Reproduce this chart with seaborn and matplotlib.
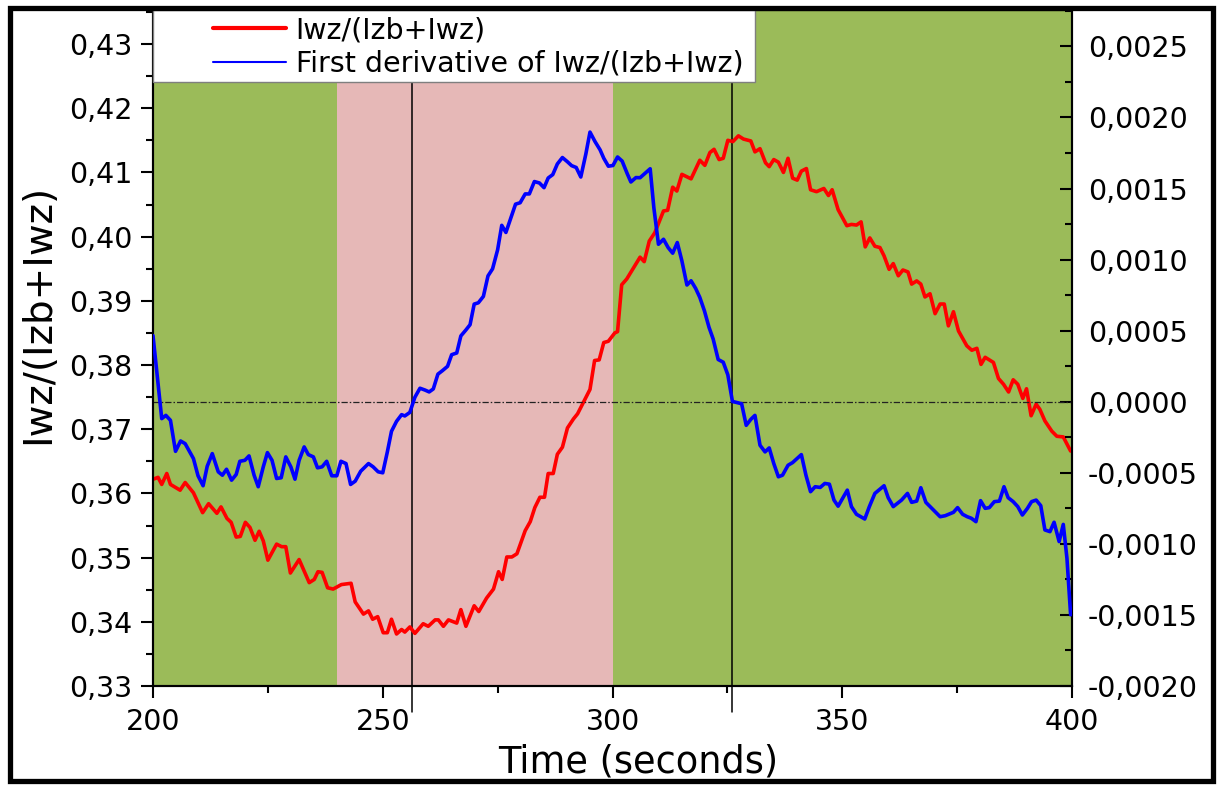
import numpy as np
import pandas as pd
import matplotlib
matplotlib.use("Agg")
import matplotlib.pyplot as plt
import seaborn as sns
from matplotlib.lines import Line2D
from matplotlib.patches import Rectangle
from matplotlib.ticker import MultipleLocator, FuncFormatter

# ---- measured ratio Iwz/(Izb+Iwz) ----
time_ratio = [
    200.0, 201.1, 201.9, 203.0, 203.8, 205.9, 207.0, 208.8, 210.8, 212.1,
    213.9, 214.8, 216.1, 217.0, 218.1, 219.0, 220.1, 221.1, 222.2, 223.1,
    224.0, 225.0, 226.9, 228.0, 228.9, 229.9, 231.8, 234.0, 235.1, 235.9,
    236.8, 238.0, 239.2, 241.0, 243.1, 244.0, 245.8, 246.9, 247.8, 248.9,
    250.1, 251.0, 251.9, 253.0, 254.1, 254.8, 255.9, 257.0, 258.8, 259.9,
    261.4, 262.1, 263.2, 264.3, 266.1, 267.0, 268.1, 269.9, 270.9, 272.6,
    274.1, 275.2, 276.0, 277.0, 278.1, 279.2, 281.0, 282.1, 283.1, 284.2,
    285.2, 286.0, 287.1, 288.0, 289.1, 290.2, 291.5, 292.4, 293.6, 295.1,
    296.1, 297.1, 298.1, 299.1, 300.5, 301.1, 302.0, 303.1, 306.0, 306.9,
    308.0, 309.2, 311.1, 312.0, 313.1, 314.0, 315.1, 317.1, 319.0, 320.1,
    321.2, 322.1, 323.2, 324.1, 325.1, 326.2, 327.4, 328.5, 330.1, 331.0,
    332.1, 333.3, 334.1, 335.1, 336.1, 337.2, 338.2, 339.2, 340.2, 341.1,
    342.2, 343.1, 344.4, 346.0, 347.0, 347.8, 349.1, 351.0, 352.0, 353.1,
    354.1, 355.0, 356.0, 357.1, 358.2, 359.1, 360.2, 361.1, 362.2, 363.2,
    364.3, 365.1, 366.2, 367.1, 368.0, 369.1, 370.2, 371.3, 372.2, 373.1,
    374.2, 375.3, 377.1, 378.2, 379.3, 380.2, 381.1, 382.9, 384.0, 385.1,
    386.2, 387.2, 388.2, 389.3, 390.1, 391.1, 392.2, 393.0, 394.1, 395.6,
    396.7, 398.1, 399.7,
]
ratio = [
    0.3622, 0.3625, 0.3614, 0.3631, 0.3614, 0.3605, 0.3617, 0.3601, 0.3570, 0.3584,
    0.3569, 0.3579, 0.3561, 0.3555, 0.3532, 0.3533, 0.3555, 0.3547, 0.3527, 0.3541,
    0.3526, 0.3496, 0.3521, 0.3517, 0.3517, 0.3476, 0.3497, 0.3461, 0.3466, 0.3478,
    0.3477, 0.3453, 0.3451, 0.3458, 0.3460, 0.3431, 0.3412, 0.3417, 0.3404, 0.3408,
    0.3383, 0.3383, 0.3404, 0.3381, 0.3388, 0.3384, 0.3392, 0.3382, 0.3397, 0.3393,
    0.3403, 0.3403, 0.3393, 0.3403, 0.3398, 0.3419, 0.3393, 0.3425, 0.3416, 0.3437,
    0.3451, 0.3478, 0.3466, 0.3501, 0.3501, 0.3506, 0.3542, 0.3556, 0.3578, 0.3594,
    0.3594, 0.3631, 0.3631, 0.3661, 0.3672, 0.3702, 0.3716, 0.3724, 0.3741, 0.3762,
    0.3807, 0.3808, 0.3835, 0.3837, 0.3850, 0.3852, 0.3925, 0.3934, 0.3968, 0.3961,
    0.3993, 0.4006, 0.4040, 0.4041, 0.4077, 0.4071, 0.4097, 0.4090, 0.4119, 0.4111,
    0.4131, 0.4136, 0.4120, 0.4122, 0.4150, 0.4148, 0.4157, 0.4152, 0.4149, 0.4132,
    0.4137, 0.4115, 0.4109, 0.4120, 0.4116, 0.4100, 0.4122, 0.4091, 0.4088, 0.4102,
    0.4106, 0.4073, 0.4070, 0.4075, 0.4064, 0.4073, 0.4042, 0.4017, 0.4019, 0.4018,
    0.4023, 0.3984, 0.3998, 0.3985, 0.3983, 0.3970, 0.3949, 0.3958, 0.3939, 0.3948,
    0.3945, 0.3926, 0.3931, 0.3926, 0.3906, 0.3911, 0.3880, 0.3895, 0.3895, 0.3861,
    0.3883, 0.3853, 0.3830, 0.3823, 0.3826, 0.3801, 0.3812, 0.3804, 0.3779, 0.3770,
    0.3758, 0.3777, 0.3770, 0.3748, 0.3763, 0.3721, 0.3739, 0.3731, 0.3713, 0.3697,
    0.3689, 0.3688, 0.3666,
]

# ---- first derivative of the ratio ----
time_deriv = [
    200.0, 201.9, 202.8, 203.8, 204.9, 206.0, 207.0, 208.8, 209.8, 210.9,
    211.8, 212.9, 214.2, 215.1, 216.0, 217.1, 218.1, 218.9, 220.0, 220.9,
    222.0, 222.9, 224.0, 224.9, 225.9, 226.9, 227.9, 228.9, 230.0, 230.9,
    231.8, 232.9, 233.8, 234.9, 235.8, 236.8, 237.8, 238.9, 240.0, 240.9,
    242.0, 243.0, 244.0, 245.2, 246.9, 247.9, 249.0, 250.0, 251.0, 251.9,
    253.0, 254.1, 254.8, 255.9, 257.0, 258.1, 259.2, 260.1, 261.0, 262.0,
    263.0, 264.1, 265.0, 266.1, 267.0, 268.1, 269.0, 269.9, 270.8, 271.9,
    272.9, 273.9, 275.0, 275.9, 276.8, 277.9, 278.9, 279.9, 281.0, 281.9,
    283.0, 284.1, 285.1, 286.0, 287.0, 288.0, 289.1, 290.2, 291.1, 292.1,
    293.1, 294.2, 295.1, 296.2, 297.3, 298.1, 299.1, 300.1, 301.1, 302.1,
    303.2, 304.0, 305.1, 306.0, 308.2, 309.0, 310.0, 311.1, 312.1, 313.1,
    314.1, 315.1, 316.2, 317.1, 318.1, 319.0, 320.0, 321.0, 321.9, 323.0,
    324.1, 325.1, 326.1, 327.2, 328.1, 329.1, 330.1, 331.0, 332.1, 333.2,
    334.1, 335.1, 336.1, 337.0, 338.2, 339.2, 341.1, 342.1, 343.1, 344.1,
    345.2, 346.2, 347.2, 348.2, 349.1, 351.1, 352.0, 353.1, 354.9, 355.9,
    357.1, 359.1, 360.0, 361.1, 362.9, 364.2, 365.1, 366.2, 367.1, 368.2,
    371.3, 372.4, 374.2, 375.1, 376.2, 377.2, 378.1, 379.1, 380.1, 381.1,
    382.0, 383.1, 384.2, 385.2, 386.1, 387.2, 388.2, 389.2, 390.3, 391.2,
    392.2, 393.2, 394.1, 395.2, 396.1, 397.2, 398.1, 398.9, 399.7,
]
deriv = [
    0.000465, -0.000119, -0.000096, -0.000131, -0.000349, -0.000276, -0.000295, -0.000400, -0.000521, -0.000591,
    -0.000454, -0.000365, -0.000493, -0.000517, -0.000475, -0.000552, -0.000512, -0.000419, -0.000412, -0.000381,
    -0.000517, -0.000598, -0.000458, -0.000358, -0.000412, -0.000540, -0.000535, -0.000388, -0.000458, -0.000545,
    -0.000412, -0.000318, -0.000372, -0.000388, -0.000465, -0.000458, -0.000419, -0.000521, -0.000521, -0.000419,
    -0.000435, -0.000582, -0.000559, -0.000489, -0.000435, -0.000458, -0.000493, -0.000500, -0.000353, -0.000208,
    -0.000138, -0.000091, -0.000100, -0.000075, 0.000032, 0.000095, 0.000082, 0.000069, 0.000090, 0.000194,
    0.000219, 0.000249, 0.000331, 0.000343, 0.000463, 0.000505, 0.000542, 0.000687, 0.000696, 0.000741,
    0.000885, 0.000935, 0.001069, 0.001241, 0.001191, 0.001295, 0.001390, 0.001400, 0.001462, 0.001462,
    0.001549, 0.001539, 0.001506, 0.001574, 0.001598, 0.001673, 0.001718, 0.001688, 0.001661, 0.001648,
    0.001581, 0.001743, 0.001897, 0.001830, 0.001772, 0.001713, 0.001657, 0.001662, 0.001722, 0.001693,
    0.001605, 0.001546, 0.001577, 0.001576, 0.001639, 0.001365, 0.001108, 0.001143, 0.001085, 0.001045,
    0.001120, 0.000991, 0.000821, 0.000851, 0.000797, 0.000734, 0.000640, 0.000524, 0.000442, 0.000297,
    0.000278, 0.000189, 0.000002, -0.000007, -0.000014, -0.000166, -0.000124, -0.000096, -0.000306, -0.000353,
    -0.000325, -0.000435, -0.000528, -0.000517, -0.000447, -0.000428, -0.000372, -0.000517, -0.000633, -0.000598,
    -0.000603, -0.000575, -0.000580, -0.000692, -0.000735, -0.000622, -0.000738, -0.000792, -0.000825, -0.000738,
    -0.000645, -0.000591, -0.000675, -0.000738, -0.000692, -0.000645, -0.000708, -0.000699, -0.000605, -0.000708,
    -0.000809, -0.000802, -0.000778, -0.000745, -0.000792, -0.000809, -0.000820, -0.000844, -0.000696, -0.000750,
    -0.000745, -0.000703, -0.000699, -0.000598, -0.000675, -0.000703, -0.000738, -0.000797, -0.000750, -0.000703,
    -0.000692, -0.000731, -0.000902, -0.000914, -0.000848, -0.000984, -0.000863, -0.001101, -0.001499,
]

# shaded phases and marker lines (seconds)
phase_edges = [200, 240, 300, 400]
phase_colors = ["#9BBB59", "#E6B8B7", "#9BBB59"]
marker_times = [256.4, 326.1]

legend_labels = ["Iwz/(Izb+Iwz)", "First derivative of Iwz/(Izb+Iwz)"]
x_label = "Time (seconds)"
y_label = "Iwz/(Izb+Iwz)"

df_ratio = pd.DataFrame({"time": time_ratio, "ratio": ratio})
df_deriv = pd.DataFrame({"time": time_deriv, "deriv": deriv})

sns.set_style("ticks")
plt.rcParams["font.family"] = ["DejaVu Sans"]
plt.rcParams.update({
    "text.color": "black",
    "axes.labelcolor": "black",
    "xtick.color": "black",
    "ytick.color": "black",
    "axes.edgecolor": "black",
})

W, H = 1217, 785
fig = plt.figure(figsize=(W / 100, H / 100), dpi=100)
fig.patch.set_facecolor("white")

ax_l, ax_r, ax_t, ax_b = 153, 1072, 10, 686
ax = fig.add_axes([ax_l / W, 1 - ax_b / H, (ax_r - ax_l) / W, (ax_b - ax_t) / H])
ax2 = ax.twinx()

# background phases
for (x0, x1), c in zip(zip(phase_edges[:-1], phase_edges[1:]), phase_colors):
    ax.axvspan(x0, x1, color=c, lw=0, zorder=0)

for t in marker_times:
    ax.axvline(t, ymin=-0.038, ymax=1, color="black", lw=1.1, zorder=1, clip_on=False)

sns.lineplot(data=df_ratio, x="time", y="ratio", ax=ax, color="#FF0000", linewidth=2.6,
             estimator=None, sort=False, legend=False, zorder=3)
sns.lineplot(data=df_deriv, x="time", y="deriv", ax=ax2, color="#0000FF", linewidth=2.6,
             estimator=None, sort=False, legend=False, zorder=3)
ax2.axhline(0, color="#222222", lw=0.9, dashes=(5, 1.6, 1.2, 1.6), zorder=2)

ax.set_xlim(200, 400)
ax.set_ylim(0.33, 0.4353)
ax2.set_ylim(-0.0020, 0.002756)

ax.xaxis.set_major_locator(MultipleLocator(50))
ax.xaxis.set_minor_locator(MultipleLocator(25))
ax.yaxis.set_major_locator(MultipleLocator(0.01))
ax.yaxis.set_minor_locator(MultipleLocator(0.005))
ax2.yaxis.set_major_locator(MultipleLocator(0.0005))
ax2.yaxis.set_minor_locator(MultipleLocator(0.00025))

ax.yaxis.set_major_formatter(FuncFormatter(lambda v, p: f"{v:.2f}".replace(".", ",")))
ax2.yaxis.set_major_formatter(
    FuncFormatter(lambda v, p: f"{round(v, 6) + 0.0:.4f}".replace(".", ",")))

tick_fs = 20.5
ax.tick_params(axis="both", which="major", direction="out", length=8.6, width=1.5,
               labelsize=tick_fs, colors="black")
ax.tick_params(axis="both", which="minor", direction="out", length=5, width=1.5)
ax.tick_params(axis="y", which="major", pad=6.0)
ax.tick_params(axis="x", which="major", pad=7)
ax2.tick_params(axis="y", which="major", direction="in", length=8.6, width=1.5,
                labelsize=tick_fs, pad=11.5, colors="black")
ax2.tick_params(axis="y", which="minor", direction="in", length=5, width=1.5)

for a in (ax, ax2):
    for s in a.spines.values():
        s.set_linewidth(1.5)
        s.set_color("black")

ax.set_xlabel(x_label, fontsize=26.5, color="black")
ax.xaxis.label.set_va("center")
ax.xaxis.set_label_coords(0.528, -0.112)
ax.set_ylabel(y_label, fontsize=28, color="black")
ax.yaxis.label.set_va("center")
ax.yaxis.set_label_coords(-0.125, 0.55)
ax2.set_ylabel("")

# legend panel in the upper-left corner
box_w = (755 - ax_l) / (ax_r - ax_l)
box_h = (82 - ax_t) / (ax_b - ax_t)
ax2.add_patch(Rectangle((0, 1 - box_h), box_w, box_h, transform=ax2.transAxes,
                        facecolor="white", edgecolor="#7f7f7f", lw=1.0, zorder=8,
                        clip_on=False))
handles = [Line2D([], [], color="#FF0000", lw=3.0),
           Line2D([], [], color="#0000FF", lw=1.5)]
leg = ax2.legend(handles, legend_labels, loc="upper left",
                 bbox_to_anchor=((213 - ax_l) / (ax_r - ax_l), 1.0 - 6 / (ax_b - ax_t)),
                 frameon=False, fontsize=20.5, borderpad=0, borderaxespad=0,
                 handlelength=2.55, handletextpad=0.35, labelspacing=0.2)
leg.set_zorder(9)
for txt in leg.get_texts():
    txt.set_color("black")

# outer frame around the whole figure
fig.patches.append(Rectangle((9.5 / W, 1 - 780.5 / H), (1213 - 9.5) / W, (780.5 - 7.5) / H,
                             transform=fig.transFigure, fill=False, lw=3.8,
                             edgecolor="black", zorder=10))

fig.savefig("out.png", dpi=100, facecolor="white")
